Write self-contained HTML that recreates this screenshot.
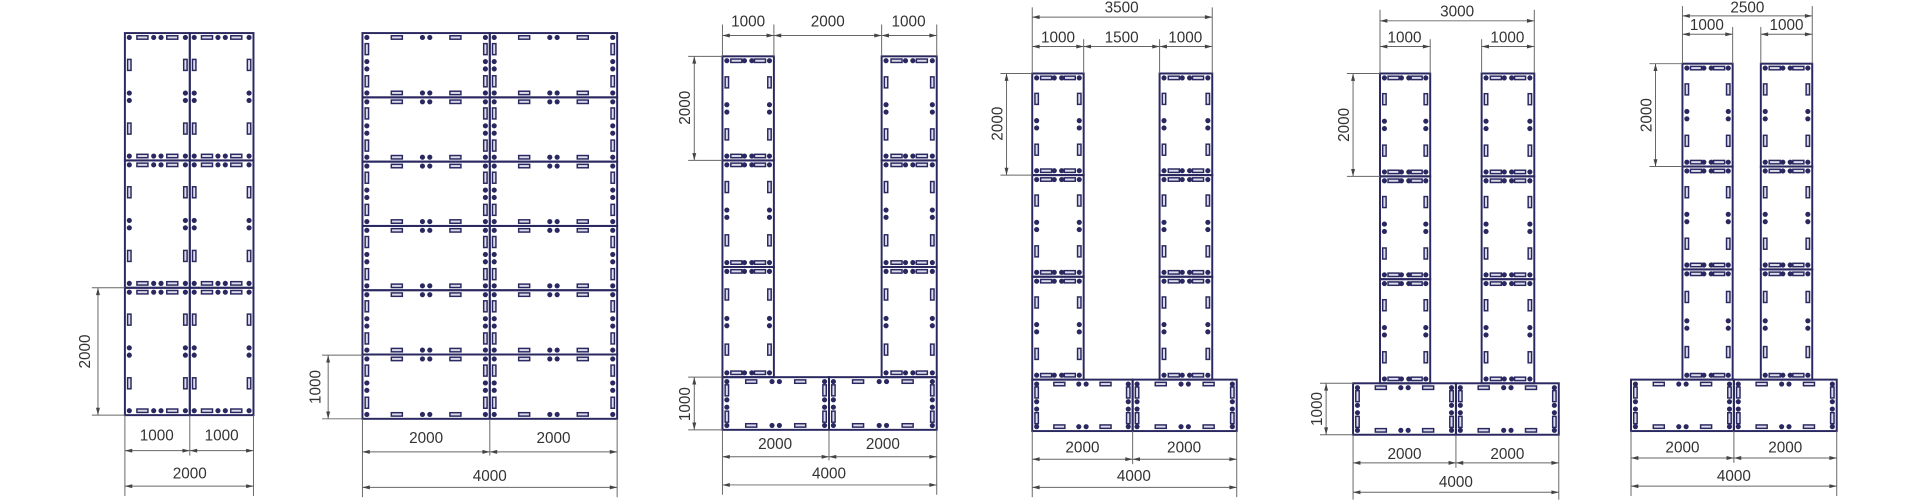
<!DOCTYPE html>
<html><head><meta charset="utf-8"><style>
html,body{margin:0;padding:0;background:#fff;width:1920px;height:500px;overflow:hidden}
svg{display:block}
text{font-family:"Liberation Sans",sans-serif;font-size:12.5px;fill:#333;text-anchor:middle;dominant-baseline:central}
</style></head><body>
<svg id="s" width="1920" height="500" viewBox="0 0 1568 408.3" preserveAspectRatio="none">
<g id="pan"></g><g id="dim"></g>
<g>
<text transform="translate(70,287) rotate(-90)">2000</text>
<text x="128" y="356">1000</text><text x="181" y="356">1000</text><text x="155" y="387">2000</text>
<text transform="translate(258,316) rotate(-90)">1000</text>
<text x="348" y="358">2000</text><text x="452" y="358">2000</text><text x="400" y="389">4000</text>
<text x="611" y="18">1000</text><text x="676" y="18">2000</text><text x="742" y="18">1000</text>
<text transform="translate(560,88) rotate(-90)">2000</text><text transform="translate(560,330) rotate(-90)">1000</text>
<text x="633" y="363">2000</text><text x="721" y="363">2000</text><text x="677" y="387">4000</text>
<text x="916" y="6.5">3500</text>
<text x="864" y="31">1000</text><text x="916" y="31">1500</text><text x="968" y="31">1000</text>
<text transform="translate(815,101) rotate(-90)">2000</text>
<text x="884" y="366">2000</text><text x="967" y="366">2000</text><text x="926" y="389">4000</text>
<text x="1190" y="10">3000</text>
<text x="1147" y="31">1000</text><text x="1231" y="31">1000</text>
<text transform="translate(1098,102) rotate(-90)">2000</text><text transform="translate(1076,334) rotate(-90)">1000</text>
<text x="1147" y="371">2000</text><text x="1231" y="371">2000</text><text x="1189" y="394">4000</text>
<text x="1427" y="6.5">2500</text>
<text x="1394" y="21">1000</text><text x="1459" y="21">1000</text>
<text transform="translate(1345,94) rotate(-90)">2000</text>
<text x="1374" y="366">2000</text><text x="1458" y="366">2000</text><text x="1416" y="389">4000</text>
</g>
</svg>
<script>
var NS="http://www.w3.org/2000/svg",P=document.getElementById('pan'),D=document.getElementById('dim');
function el(g,t,a){var e=document.createElementNS(NS,t);for(var k in a)e.setAttribute(k,a[k]);g.appendChild(e);return e;}
var C="#2a2860";
function dot(x,y){el(P,'circle',{cx:x,cy:y,r:2.1,fill:C});}
function slotH(x,y){el(P,'rect',{x:x-4.5,y:y-1.4,width:9,height:2.8,fill:'#dcdcea',stroke:C,'stroke-width':1.2});}
function slotV(x,y){el(P,'rect',{x:x-1.4,y:y-4.5,width:2.8,height:9,fill:'#dcdcea',stroke:C,'stroke-width':1.2});}
function panel(x,y,w,h){
 el(P,'rect',{x:x,y:y,width:w,height:h,fill:'none',stroke:C,'stroke-width':1.6});
 var i=3.6;
 [y+i,y+h-i].forEach(function(yy){
  dot(x+i,yy);dot(x+w-i,yy);dot(x+w/2-3,yy);dot(x+w/2+3,yy);
  slotH(x+w*0.27,yy);slotH(x+w*0.73,yy);
 });
 [x+i,x+w-i].forEach(function(xx){
  dot(xx,y+h/2-3);dot(xx,y+h/2+3);
  slotV(xx,y+h*0.25);slotV(xx,y+h*0.75);
 });
}
function grid(xs,ys){for(var a=0;a<xs.length-1;a++)for(var b=0;b<ys.length-1;b++)panel(xs[a],ys[b],xs[a+1]-xs[a],ys[b+1]-ys[b]);}
var G="#666";
function ln(x1,y1,x2,y2){el(D,'line',{x1:x1,y1:y1,x2:x2,y2:y2,stroke:G,'stroke-width':0.8});}
function arr(x,y,dx,dy){
 var L=6,W=1.6;el(D,'polygon',{points:x+','+y+' '+(x-dx*L-dy*W)+','+(y-dy*L-dx*W)+' '+(x-dx*L+dy*W)+','+(y-dy*L+dx*W),fill:'#444'});}
function hd(x1,x2,y){ln(x1,y,x2,y);arr(x1,y,-1,0);arr(x2,y,1,0);}
function vd(x,y1,y2){ln(x,y1,x,y2);arr(x,y1,0,-1);arr(x,y2,0,1);}
grid([102,155,207],[27,131,235,339]);
vd(80,235,339);ln(75,235,102,235);ln(75,339,102,339);
hd(102,155,368);hd(155,207,368);hd(102,207,397);
ln(102,339,102,405);ln(207,339,207,405);ln(155,339,155,372);
var r2=[];for(var i=0;i<=6;i++)r2.push(27+i*52.5);grid([296,400,504],r2);
vd(268,290,342);ln(263,290,296,290);ln(263,342,296,342);
hd(296,400,369);hd(400,504,369);hd(296,504,398);
ln(296,342,296,406);ln(504,342,504,406);ln(400,342,400,372);
grid([590,632],[46,131,218,308]);grid([720,765],[46,131,218,308]);grid([590,677,765],[308,351]);
hd(590,632,29);hd(632,720,29);hd(720,765,29);
[590,632,720,765].forEach(function(x){ln(x,20,x,46);});
vd(567,46,131);vd(567,308,351);ln(562,46,590,46);ln(562,131,590,131);ln(562,308,590,308);ln(562,351,590,351);
hd(590,677,373);hd(677,765,373);hd(590,765,396);
ln(590,351,590,404);ln(765,351,765,404);ln(677,351,677,376);
grid([843,885],[60,143,226,310]);grid([947,990],[60,143,226,310]);grid([843,925,1010],[310,352]);
hd(843,990,14);hd(843,885,38);hd(885,947,38);hd(947,990,38);
ln(843,6,843,60);ln(990,6,990,60);ln(885,32,885,60);ln(947,32,947,60);
vd(822,60,143);ln(817,60,843,60);ln(817,143,843,143);
hd(843,925,375);hd(925,1010,375);hd(843,1010,398);
ln(843,352,843,406);ln(1010,352,1010,406);ln(925,352,925,379);
grid([1127,1168],[60,144,228,313]);grid([1210,1253],[60,144,228,313]);grid([1105,1189,1273],[313,355]);
hd(1127,1253,17);hd(1127,1168,38);hd(1210,1253,38);
ln(1127,8,1127,60);ln(1253,8,1253,60);ln(1168,32,1168,60);ln(1210,32,1210,60);
vd(1105,60,144);ln(1100,60,1127,60);ln(1100,144,1127,144);
vd(1083,313,355);ln(1078,313,1105,313);ln(1078,355,1105,355);
hd(1105,1189,378);hd(1189,1273,378);hd(1105,1273,402);
ln(1105,355,1105,408);ln(1273,355,1273,408);ln(1189,355,1189,382);
grid([1374,1415],[52,136,220,310]);grid([1438,1480],[52,136,220,310]);grid([1332,1416,1500],[310,352]);
hd(1374,1480,13);hd(1374,1415,28);hd(1438,1480,28);
ln(1374,5,1374,52);ln(1480,5,1480,52);ln(1415,22,1415,52);ln(1438,22,1438,52);
vd(1352,52,136);ln(1347,52,1374,52);ln(1347,136,1374,136);
hd(1332,1416,374);hd(1416,1500,374);hd(1332,1500,397);
ln(1332,352,1332,405);ln(1500,352,1500,405);ln(1416,352,1416,378);
</script>
</body></html>
